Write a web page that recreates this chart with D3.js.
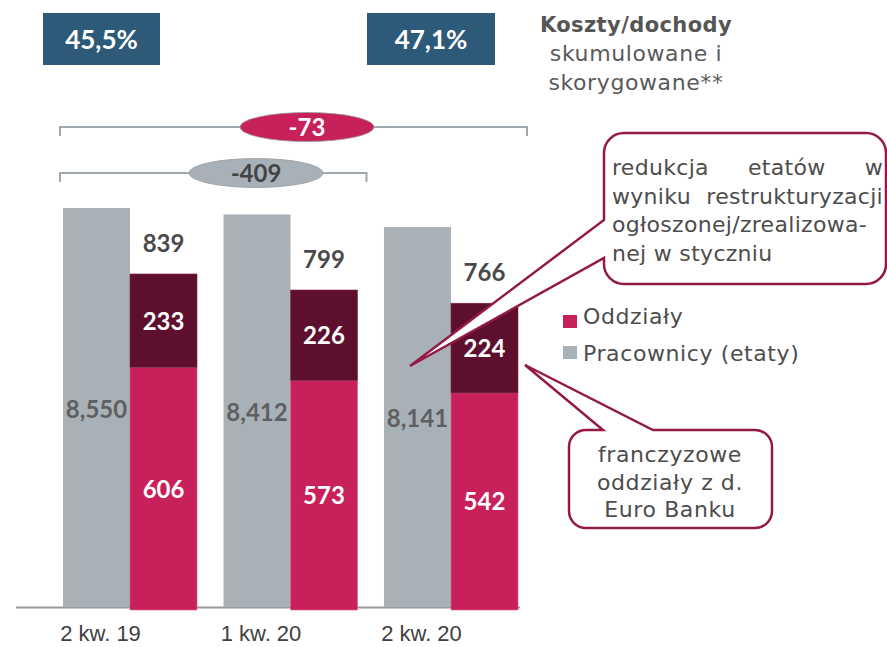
<!DOCTYPE html>
<html>
<head>
<meta charset="utf-8">
<script src="https://cdn.jsdelivr.net/npm/d3@7"></script>
<style>
  body { margin: 0; background: #fff; }
  svg text { font-family: "DejaVu Sans", sans-serif; }
  svg text.num { font-family: Lato, "DejaVu Sans", sans-serif; font-weight: bold; }
  svg text.txt { letter-spacing: 0.6px; }
  svg text.note { letter-spacing: 0.3px; }
</style>
</head>
<body>
<svg width="887" height="647"></svg>
<script>
// data
const categories = ['2 kw. 19', '1 kw. 20', '2 kw. 20'];
const employees = [8550, 8412, 8141];
const ownBranches = [606, 573, 542];
const franchiseBranches = [233, 226, 224];
const costIncome = ['45,5%', '47,1%'];
const deltas = [{ label: '-73', from: 0, to: 2 }, { label: '-409', from: 0, to: 1 }];

const svg = d3.select('svg');

const colGrey = '#a9b1b8',
  colPink = '#c8205a',
  colDark = '#5e0f2e',
  colCallout = '#931a45',
  colText = '#4a4a4a';

const x = d3.scaleBand().domain(categories).range([63, 518]).paddingInner(0.165);
const barW = x.bandwidth() / 2;

const yEmp = d3.scaleLinear().domain([0, 9000]).range([607, 607 - 9000 * 399 / 8550]);
const yBr = d3.scaleLinear().domain([0, 900]).range([610, 610 - 900 * 0.4005]);

// axis line
svg.append('line')
  .attr('x1', 16).attr('x2', 520)
  .attr('y1', 607.5).attr('y2', 607.5)
  .attr('stroke', '#9a9a9a').attr('stroke-width', 2);

const g = svg.selectAll('.grp')
  .data(categories.map((c, i) => ({ c, i })))
  .enter().append('g').attr('class', 'grp');

// employees bars
g.append('rect')
  .attr('x', d => x(d.c))
  .attr('width', barW)
  .attr('y', d => yEmp(employees[d.i]))
  .attr('height', d => yEmp(0) - yEmp(employees[d.i]))
  .attr('fill', colGrey);

// own branches
g.append('rect')
  .attr('x', d => x(d.c) + barW)
  .attr('width', barW)
  .attr('y', d => yBr(ownBranches[d.i]))
  .attr('height', d => yBr(0) - yBr(ownBranches[d.i]))
  .attr('fill', colPink)
  .attr('stroke', '#e0608a').attr('stroke-width', 0.6);

// franchise branches stacked
g.append('rect')
  .attr('x', d => x(d.c) + barW)
  .attr('width', barW)
  .attr('y', d => yBr(ownBranches[d.i] + franchiseBranches[d.i]))
  .attr('height', d => yBr(ownBranches[d.i]) - yBr(ownBranches[d.i] + franchiseBranches[d.i]))
  .attr('fill', colDark)
  .attr('stroke', '#7a2a48').attr('stroke-width', 0.6);

// labels
g.append('text').attr('class', 'num')
  .attr('x', d => x(d.c) + barW / 2)
  .attr('y', d => (yEmp(employees[d.i]) + yEmp(0)) / 2 + 10)
  .attr('text-anchor', 'middle')
  .attr('font-size', 24)
  .attr('fill', '#5f5f5f')
  .text(d => d3.format(',')(employees[d.i]));

g.append('text').attr('class', 'num')
  .attr('x', d => x(d.c) + barW * 1.5)
  .attr('y', d => (yBr(ownBranches[d.i]) + yBr(0)) / 2 + 9)
  .attr('text-anchor', 'middle')
  .attr('font-size', 24)
  .attr('fill', '#fff')
  .text(d => ownBranches[d.i]);

g.append('text').attr('class', 'num')
  .attr('x', d => x(d.c) + barW * 1.5)
  .attr('y', d => (yBr(ownBranches[d.i]) + yBr(ownBranches[d.i] + franchiseBranches[d.i])) / 2 + 9)
  .attr('text-anchor', 'middle')
  .attr('font-size', 24)
  .attr('fill', '#fff')
  .text(d => franchiseBranches[d.i]);

g.append('text').attr('class', 'num')
  .attr('x', d => x(d.c) + barW * 1.5)
  .attr('y', d => yBr(ownBranches[d.i] + franchiseBranches[d.i]) - 22)
  .attr('text-anchor', 'middle')
  .attr('font-size', 24)
  .attr('fill', colText)
  .text(d => ownBranches[d.i] + franchiseBranches[d.i]);

// category labels
g.append('text')
  .attr('x', d => x(d.c) + barW / 2 + 4)
  .attr('y', 641)
  .attr('text-anchor', 'middle')
  .attr('font-size', 22)
  .style('font-family', '"Liberation Sans", Arial, sans-serif')
  .attr('fill', '#404040')
  .text(d => d.c);

// cost/income boxes
const boxes = [{ x0: 43, x1: 160 }, { x0: 367, x1: 495 }];
boxes.forEach((b, i) => {
  svg.append('rect')
    .attr('x', b.x0).attr('y', 13)
    .attr('width', b.x1 - b.x0).attr('height', 52)
    .attr('fill', '#2d5a78');
  svg.append('text').attr('class', 'num')
    .attr('x', (b.x0 + b.x1) / 2).attr('y', 49)
    .attr('text-anchor', 'middle')
    .attr('font-size', 26)
    .attr('fill', '#fff')
    .text(costIncome[i]);
});

svg.append('text').attr('x', 636).attr('y', 32)
  .attr('text-anchor', 'middle').attr('font-size', 21).attr('font-weight', 'bold')
  .attr('letter-spacing', 0.4)
  .attr('fill', '#555').text('Koszty/dochody');
svg.append('text').attr('class', 'txt').attr('x', 636).attr('y', 61)
  .attr('text-anchor', 'middle').attr('font-size', 22)
  .attr('fill', '#5a5a5a').text('skumulowane i');
svg.append('text').attr('class', 'txt').attr('x', 636).attr('y', 90)
  .attr('text-anchor', 'middle').attr('font-size', 22)
  .attr('fill', '#5a5a5a').text('skorygowane**');

// delta brackets
const bracketY = [127, 173];
const ellipseX = [307, 256];
deltas.forEach((d, i) => {
  const xa = x(categories[d.from]) - 3,
    xb = x(categories[d.to]) + barW * 2 + 9;
  const yy = bracketY[i];
  svg.append('path')
    .attr('d', `M${xa},${yy + 9}V${yy}H${xb}V${yy + 9}`)
    .attr('fill', 'none')
    .attr('stroke', '#9fa8ae').attr('stroke-width', 2);
  svg.append('ellipse')
    .attr('cx', ellipseX[i]).attr('cy', yy)
    .attr('rx', 67).attr('ry', 14.5)
    .attr('fill', i === 0 ? colPink : colGrey)
    .attr('stroke', '#9a9a9a').attr('stroke-width', 0.8);
  svg.append('text').attr('class', 'num')
    .attr('x', ellipseX[i]).attr('y', yy + 9)
    .attr('text-anchor', 'middle')
    .attr('font-size', 24)
    .attr('fill', i === 0 ? '#fff' : '#444')
    .text(d.label);
});

// legend
const legend = [{ t: 'Oddziały', c: colPink, y: 315, ty: 324 }, { t: 'Pracownicy (etaty)', c: colGrey, y: 346, ty: 361 }];
legend.forEach(l => {
  svg.append('rect').attr('x', 563).attr('y', l.y).attr('width', 14).attr('height', 13).attr('fill', l.c);
  svg.append('text').attr('class', 'txt').attr('x', 583).attr('y', l.ty)
    .attr('font-size', 22).attr('fill', '#4d4d4d').text(l.t);
});

// callouts
function calloutLeft(x0, y0, x1, y1, r, p1, p2, tip) {
  const p = d3.path();
  p.moveTo(x0 + r, y0);
  p.lineTo(x1 - r, y0);
  p.arcTo(x1, y0, x1, y0 + r, r);
  p.lineTo(x1, y1 - r);
  p.arcTo(x1, y1, x1 - r, y1, r);
  p.lineTo(x0 + r, y1);
  p.arcTo(x0, y1, x0, y1 - r, r);
  p.lineTo(x0, p2);
  p.lineTo(tip[0], tip[1]);
  p.lineTo(x0, p1);
  p.lineTo(x0, y0 + r);
  p.arcTo(x0, y0, x0 + r, y0, r);
  p.closePath();
  return p.toString();
}
function calloutTop(x0, y0, x1, y1, r, p1, p2, tip) {
  const p = d3.path();
  p.moveTo(x0 + r, y0);
  p.lineTo(p1, y0);
  p.lineTo(tip[0], tip[1]);
  p.lineTo(p2, y0);
  p.lineTo(x1 - r, y0);
  p.arcTo(x1, y0, x1, y0 + r, r);
  p.lineTo(x1, y1 - r);
  p.arcTo(x1, y1, x1 - r, y1, r);
  p.lineTo(x0 + r, y1);
  p.arcTo(x0, y1, x0, y1 - r, r);
  p.lineTo(x0, y0 + r);
  p.arcTo(x0, y0, x0 + r, y0, r);
  p.closePath();
  return p.toString();
}

svg.append('path')
  .attr('d', calloutLeft(604, 133, 886, 284, 20, 220, 258, [410, 366]))
  .attr('fill', '#fff').attr('stroke', colCallout).attr('stroke-width', 2.5);

svg.append('path')
  .attr('d', calloutTop(569, 430, 772, 528, 17, 603, 653, [525, 365]))
  .attr('fill', '#fff').attr('stroke', colCallout).attr('stroke-width', 2.5);

// justified text for first callout
const note1 = ['redukcja etatów w', 'wyniku restrukturyzacji', 'ogłoszonej/zrealizowa-', 'nej w styczniu'];
const left = 612, right = 883;
note1.forEach((line, i) => {
  const words = line.split(' ');
  const yy = 175 + i * 28.5;
  const justify = i < 2 && words.length > 1;
  if (!justify) {
    svg.append('text').attr('class', 'note').attr('x', left).attr('y', yy)
      .attr('font-size', 22).attr('fill', '#4d4d4d').text(line);
    return;
  }
  const nodes = words.map(w => svg.append('text').attr('class', 'note').attr('y', yy)
    .attr('font-size', 22).attr('fill', '#4d4d4d').text(w));
  const widths = nodes.map(n => n.node().getComputedTextLength());
  const gap = (right - left - d3.sum(widths)) / (words.length - 1);
  let cx = left;
  nodes.forEach((n, k) => { n.attr('x', cx); cx += widths[k] + gap; });
});

const note2 = ['franczyzowe', 'oddziały z d.', 'Euro Banku'];
note2.forEach((line, i) => {
  svg.append('text').attr('class', 'txt').attr('x', 670).attr('y', 462 + i * 27.5)
    .attr('text-anchor', 'middle')
    .attr('font-size', 22).attr('fill', '#4d4d4d').text(line);
});
</script>
</body>
</html>
